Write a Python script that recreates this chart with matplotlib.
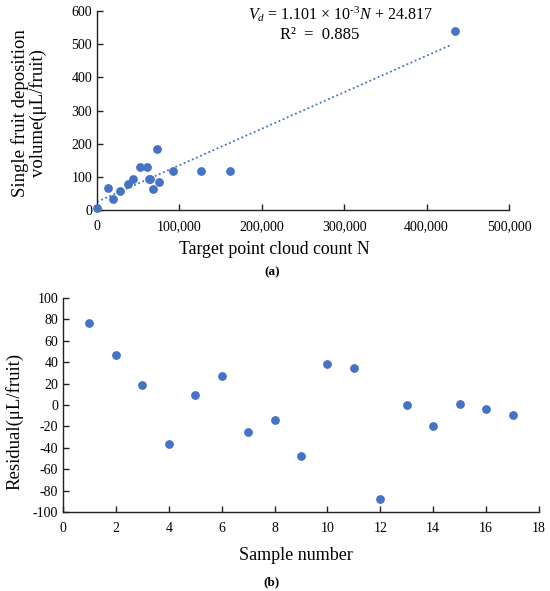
import matplotlib.pyplot as plt
import numpy as np

plt.rcParams['font.family'] = ['Liberation Serif', 'DejaVu Serif']
plt.rcParams['mathtext.fontset'] = 'custom'
plt.rcParams['mathtext.rm'] = 'Liberation Serif'
plt.rcParams['mathtext.it'] = 'Liberation Serif:italic'

# (a) point cloud count vs deposition volume
point_count = [0, 13000, 19000, 28000, 38000, 44000, 52000, 61000, 62500, 64500,
               68000, 73000, 75000, 92000, 126000, 162000, 435000]
deposition = [5, 67, 32, 58, 77, 92, 130, 131, 93, 92, 64, 183, 83, 117, 117, 117, 540]
slope = 1.101e-3
intercept = 24.817

# (b) residuals
sample_no = list(range(1, 18))
residual = [76.9, 47, 18.7, -36.6, 9.7, 27.4, -24.8, -14.2, -47.7, 38.3, 34.3,
            -87.6, -0.2, -19.5, 1, -4, -9.8]

blue = "#4472C4"
W, H = 550, 591
fig = plt.figure(figsize=(W / 100, H / 100), dpi=100)

def style(ax):
    for s in ["top", "right"]:
        ax.spines[s].set_visible(False)
    for s in ["left", "bottom"]:
        ax.spines[s].set_linewidth(1.0)
        ax.spines[s].set_color("#222222")
    ax.tick_params(direction="in", length=4, width=1, labelsize=10, color="#222222")

ax1 = fig.add_axes([97 / W, 1 - 210 / H, 412 / W, 199 / H])
style(ax1)
ax1.scatter(point_count, deposition, s=28, color=blue, zorder=3, clip_on=False)
xfit = np.array([min(point_count), 431000])
ax1.plot(xfit, slope * xfit + intercept, linestyle=(0, (1, 1.5)), color=blue, lw=1.3)
ax1.set_xlim(0, 500000)
ax1.set_ylim(0, 600)
ax1.set_xticks(range(0, 500001, 100000))
ax1.set_xticklabels([f"{v:,}" for v in range(0, 500001, 100000)])
ax1.set_yticks(range(0, 601, 100))
ax1.tick_params(axis="x", pad=7)

fig.text(340 / W, 1 - 14 / H, r"$V_d$ = 1.101 × 10$^{\text{-3}}$$N$ + 24.817",
         ha="center", va="center", fontsize=11.5)
fig.text(320 / W, 1 - 35 / H, "R²  =  0.885", ha="center", va="center", fontsize=12)
fig.text(274 / W, 1 - 250 / H, "Target point cloud count N", ha="center", va="center", fontsize=12.8)
fig.text(29 / W, 1 - 113 / H, "Single fruit deposition\nvolume(μL/fruit)", ha="center",
         va="center", rotation=90, fontsize=13.5, linespacing=1.05)
fig.text(272 / W, 1 - 272 / H, "(a)", ha="center", va="center", fontsize=9.5, fontweight="bold")

ax2 = fig.add_axes([63 / W, 1 - 512 / H, 476 / W, 214 / H])
style(ax2)
ax2.scatter(sample_no, residual, s=28, color=blue, zorder=3)
ax2.set_xlim(0, 18)
ax2.set_ylim(-100, 100)
ax2.set_xticks(range(0, 19, 2))
ax2.set_yticks(range(-100, 101, 20))
ax2.set_yticklabels([str(v) for v in range(-100, 101, 20)])
ax2.tick_params(axis="x", pad=7)

fig.text(296 / W, 1 - 556 / H, "Sample number", ha="center", va="center", fontsize=13)
fig.text(14 / W, 1 - 421 / H, "Residual(μL/fruit)", ha="center", va="center",
         rotation=90, fontsize=13.5)
fig.text(272 / W, 1 - 582 / H, "(b)", ha="center", va="center", fontsize=9.5, fontweight="bold")

fig.savefig("out.png", dpi=100)
